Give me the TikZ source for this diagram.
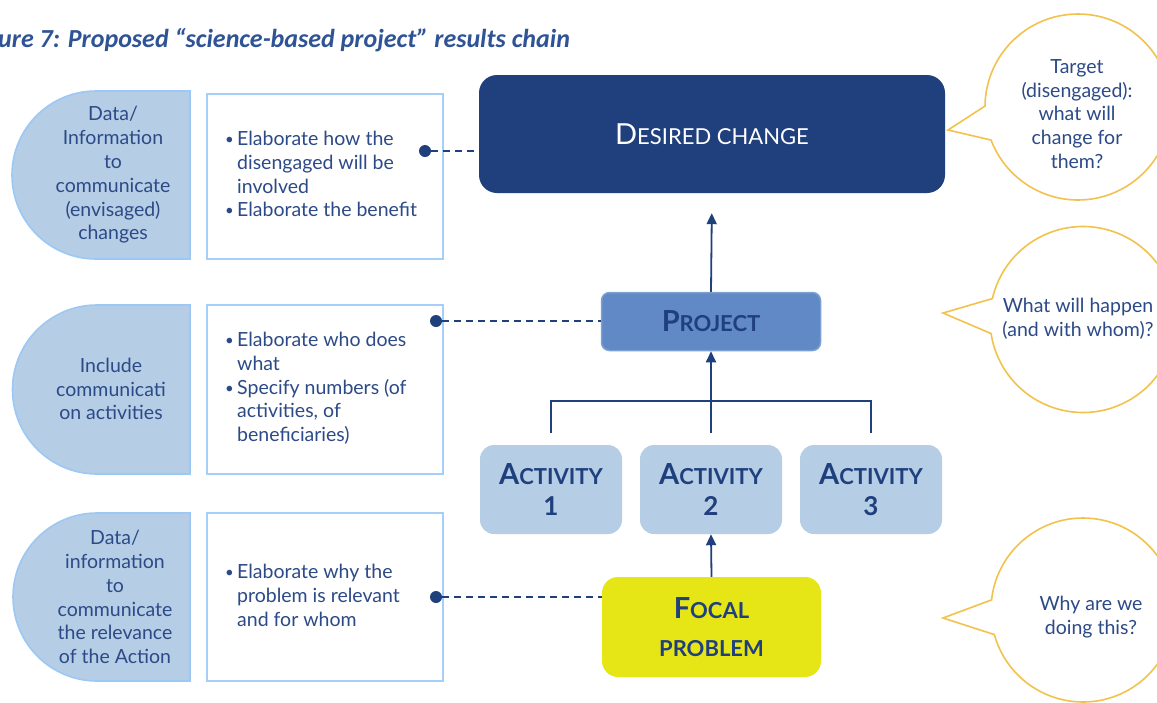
\documentclass[tikz,border=0pt]{standalone}
\usepackage{fontspec}
\setmainfont{Lato}
\newfontfamily\titlefont{Carlito}
\usetikzlibrary{arrows.meta,calc}
\definecolor{navy}{HTML}{203F7D}
\definecolor{txtblue}{HTML}{2C4A87}
\definecolor{titleblue}{HTML}{2F5496}
\definecolor{projblue}{HTML}{6089C5}
\definecolor{projedge}{HTML}{7EA1D4}
\definecolor{lightfill}{HTML}{B5CDE5}
\definecolor{lightedge}{HTML}{9CC8F5}
\definecolor{boxedge}{HTML}{A6CFF7}
\definecolor{focalyellow}{HTML}{E6E617}
\definecolor{bubbleyellow}{HTML}{F2C24C}
\newcommand{\capsc}[2]{{\fontsize{29}{30}\selectfont #1}{\fontsize{22}{30}\selectfont #2}}
\newcommand{\bul}{\makebox[12pt][l]{\raisebox{1pt}{\fontsize{15}{15}\selectfont•}}}
\newcommand{\ind}{\hspace*{12pt}}
\tikzset{
  chainbox/.style={rectangle, inner sep=0pt, text=navy, font=\bfseries, align=center},
  halfshape/.style={fill=lightfill, draw=lightedge, line width=1.6pt},
  textframe/.style={draw=boxedge, line width=1.6pt, fill=white},
  bodytext/.style={inner sep=0pt, text=txtblue, font=\fontsize{19.5}{23.8}\selectfont},
  conn/.style={draw=navy, line width=1.8pt},
  arr/.style={-{Triangle[length=11pt,width=10pt]}},
  dashconn/.style={draw=navy, line width=1.8pt, dash pattern=on 7pt off 5pt},
  dotnode/.style={circle, fill=navy, inner sep=0pt, minimum size=12pt},
  bubble/.style={draw=bubbleyellow, line width=1.6pt, fill=white}
}
\begin{document}
\begin{tikzpicture}[x=1pt,y=1pt]
\useasboundingbox (0,0) rectangle (1157,-702);
\clip (0,0) rectangle (1157,-702);
\fill[white] (0,0) rectangle (1157,-702);

% title
\node[anchor=base west, inner sep=0pt, text=titleblue, font=\titlefont\bfseries\itshape\fontsize{26}{30}\selectfont] (title) at (-2,-47) {ure 7: Proposed “science-based project” results chain};

% left half-round shapes
\draw[halfshape] (190,-91) -- (96,-91) arc[start angle=90,end angle=270,radius=84] -- (190,-259) -- cycle;
\draw[halfshape] (190,-305) -- (97,-305) arc[start angle=90,end angle=270,radius=84.5] -- (190,-474) -- cycle;
\draw[halfshape] (190,-513) -- (97,-513) arc[start angle=90,end angle=270,radius=84] -- (190,-681) -- cycle;

\node[bodytext, align=center] (l1) at (113,-175) {Data/\\Information\\to\\communicate\\(envisaged)\\changes};
\node[bodytext, align=center] (l2) at (111,-389) {Include\\communicati\\on activities};
\node[bodytext, align=center] (l3) at (115,-597) {Data/\\information\\to\\communicate\\the relevance\\of the Action};

% text frames
\draw[textframe] (207,-94) rectangle (443,-259);
\draw[textframe] (207,-305) rectangle (443,-474);
\draw[textframe] (207,-513) rectangle (443,-681);

\node[bodytext, align=left, anchor=north west] (t1) at (225,-131) {\bul Elaborate how the\\\ind disengaged will be\\\ind involved\\\bul Elaborate the benefit};
\node[bodytext, align=left, anchor=north west] (t2) at (225,-332) {\bul Elaborate who does\\\ind what\\\bul Specify numbers (of\\\ind activities, of\\\ind beneficiaries)};
\node[bodytext, align=left, anchor=north west] (t3) at (225,-564) {\bul Elaborate why the\\\ind problem is relevant\\\ind and for whom};

% chain boxes
\node[chainbox, fill=navy, text=white, font=\mdseries, minimum width=466pt, minimum height=118pt, rounded corners=18pt] (desired) at (712,-134) {\capsc{D}{ESIRED CHANGE}};
\node[chainbox, fill=projblue, draw=projedge, line width=1.5pt, minimum width=219pt, minimum height=58pt, rounded corners=8pt] (project) at (711,-321.5) {\capsc{P}{ROJECT}};
\tikzset{actbox/.style={chainbox, fill=lightfill, minimum width=142pt, minimum height=89pt, rounded corners=14pt, font=\bfseries\fontsize{22}{31}\selectfont}}
\node[actbox] (act1) at (551,-489.5) {\capsc{A}{CTIVITY}\\{\fontsize{26}{31}\selectfont 1}};
\node[actbox] (act2) at (711,-489.5) {\capsc{A}{CTIVITY}\\{\fontsize{26}{31}\selectfont 2}};
\node[actbox] (act3) at (871,-489.5) {\capsc{A}{CTIVITY}\\{\fontsize{26}{31}\selectfont 3}};
\node[chainbox, fill=focalyellow, minimum width=219pt, minimum height=100pt, rounded corners=16pt, font=\bfseries\fontsize{22}{38}\selectfont] (focal) at (711.5,-627) {\capsc{F}{OCAL}\\PROBLEM};

% connectors
\coordinate (hub) at (711,-401);
\draw[conn, arr, shorten >=20pt] (project.north) -- (desired.south);
\draw[conn] ($(act1.north)+(0,12)$) -- (act1.north |- hub) -- (act3.north |- hub) -- ($(act3.north)+(0,12)$);
\draw[conn, arr] ($(act2.north)+(0,12)$) -- (project.south);
\draw[conn, arr] (focal.north) -- (act2.south);

% dots and dashed links
\node[dotnode] (d1) at (425,-151) {};
\node[dotnode] (d2) at (436,-321) {};
\node[dotnode] (d3) at (436,-597) {};
\draw[dashconn] (d1.east) -- (d1 -| desired.west);
\draw[dashconn] (d2.east) -- (d2 -| project.west);
\draw[dashconn] (d3.east) -- (d3 -| focal.west);

% speech bubbles
\coordinate (bc1) at (1078,-107);
\coordinate (bc2) at (1083,-319.5);
\coordinate (bc3) at (1083,-610);
\coordinate (tip1) at (948,-130);
\coordinate (tip2) at (943,-313);
\coordinate (tip3) at (943,-618);
\draw[bubble] ($(bc1)+(179.4:93)$) arc[start angle=179.4,end angle=-159.2,radius=93] -- (tip1) -- cycle;
\draw[bubble] ($(bc2)+(167:93)$) arc[start angle=167,end angle=-171.3,radius=93] -- (tip2) -- cycle;
\draw[bubble] ($(bc3)+(173.7:92)$) arc[start angle=173.7,end angle=-164.5,radius=92] -- (tip3) -- cycle;

\node[bodytext, align=center] (q1) at (1077,-114) {Target\\(disengaged):\\what will\\change for\\them?};
\node[bodytext, align=center] (q2) at (1078,-319) {What will happen\\(and with whom)?};
\node[bodytext, align=center] (q3) at (1091,-617) {Why are we\\doing this?};
\end{tikzpicture}
\end{document}
